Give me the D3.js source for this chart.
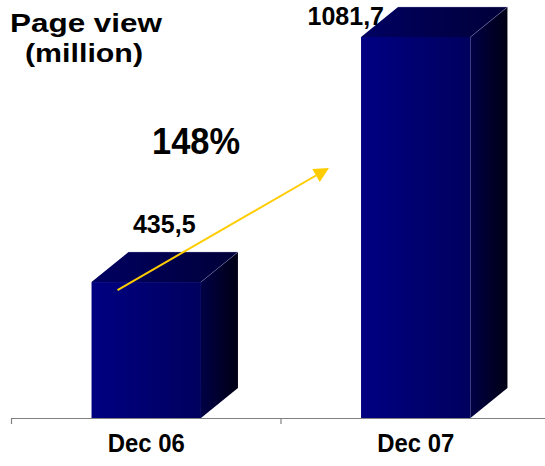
<!DOCTYPE html>
<html>
<head>
<meta charset="utf-8">
<script src="https://cdn.jsdelivr.net/npm/d3@7"></script>
<style>
  html, body { margin: 0; padding: 0; background: #ffffff; }
  svg { display: block; }
  text { font-family: "Liberation Sans", Arial, sans-serif; font-weight: bold; fill: #000; }
</style>
</head>
<body>
<svg id="chart" width="545" height="466"></svg>
<script>
// Page views per period (million)
const categories = ["Dec 06", "Dec 07"];
const pageViews = [435.5, 1081.7];
const valueLabels = ["435,5", "1081,7"];
const growthLabel = "148%";
const titleLines = ["Page view", "(million)"];

const width = 545, height = 466;
const svg = d3.select("#chart");

// Layout of the plot floor
const floorY = 418;
const axisLeft = 11.5, axisRight = 550.5;
const depthX = 37, depthY = -30;   // oblique 3D depth offset

const x = d3.scaleBand()
  .domain(categories)
  .range([axisLeft, axisRight])
  .paddingInner(0)
  .paddingOuter(0);

// Value axis of the 3D plot starts above zero
const y = d3.scaleLinear()
  .domain([77, 1081.7])
  .range([floorY, 37]);

const barW = x.bandwidth() * 0.406;

// Gradients for the three visible faces
const defs = svg.append("defs");
function grad(id, c0, c1) {
  const g = defs.append("linearGradient").attr("id", id)
    .attr("x1", "0%").attr("y1", "0%").attr("x2", "100%").attr("y2", "0%");
  g.append("stop").attr("offset", "0%").attr("stop-color", c0);
  g.append("stop").attr("offset", "100%").attr("stop-color", c1);
}
grad("gFront", "#000082", "#00005e");
grad("gSide", "#000046", "#000014");
grad("gTop", "#000062", "#000038");

// Bars
const bars = svg.append("g").selectAll("g.bar")
  .data(categories.map((c, i) => ({ cat: c, value: pageViews[i] })))
  .join("g").attr("class", "bar");

bars.each(function(d) {
  const g = d3.select(this);
  const x0 = x(d.cat) + (x.bandwidth() - barW) / 2;
  const x1 = x0 + barW;
  const top = y(d.value);
  const bottom = floorY;
  const line = d3.line();

  // side face
  g.append("path")
    .attr("d", line([[x1, top], [x1 + depthX, top + depthY], [x1 + depthX, bottom + depthY], [x1, bottom]]) + "Z")
    .attr("fill", "url(#gSide)");
  // top face
  g.append("path")
    .attr("d", line([[x0, top], [x0 + depthX, top + depthY], [x1 + depthX, top + depthY], [x1, top]]) + "Z")
    .attr("fill", "url(#gTop)");
  // front face
  g.append("rect")
    .attr("x", x0).attr("y", top)
    .attr("width", barW).attr("height", bottom - top)
    .attr("fill", "url(#gFront)");
  // faint highlight edges on the top
  g.append("path")
    .attr("d", line([[x0 + depthX, top + depthY], [x1 + depthX, top + depthY], [x1, top]]))
    .attr("fill", "none")
    .attr("stroke", "#9a9ac8")
    .attr("stroke-opacity", 0.5)
    .attr("stroke-width", 0.7);
});

// Category axis
const axisG = svg.append("g");
axisG.append("line")
  .attr("x1", axisLeft).attr("x2", width)
  .attr("y1", floorY + 0.5).attr("y2", floorY + 0.5)
  .attr("stroke", "#808080").attr("stroke-width", 1.2);
const tickPos = [axisLeft, x(categories[1])];
axisG.selectAll("line.tick")
  .data(tickPos)
  .join("line").attr("class", "tick")
  .attr("x1", d => d).attr("x2", d => d)
  .attr("y1", floorY).attr("y2", floorY + 6)
  .attr("stroke", "#808080").attr("stroke-width", 1.2);

axisG.selectAll("text.cat")
  .data(categories)
  .join("text").attr("class", "cat")
  .attr("x", d => x(d) + x.bandwidth() / 2)
  .attr("y", 452)
  .attr("text-anchor", "middle")
  .attr("font-size", 25)
  .attr("textLength", 77)
  .attr("lengthAdjust", "spacingAndGlyphs")
  .text(d => d);

// Value labels
const labelOffsets = [[18, -49], [-70, -12]];
svg.selectAll("text.val")
  .data(pageViews)
  .join("text").attr("class", "val")
  .attr("x", (d, i) => x(categories[i]) + x.bandwidth() / 2 + labelOffsets[i][0])
  .attr("y", (d, i) => y(d) + labelOffsets[i][1])
  .attr("text-anchor", "middle")
  .attr("font-size", 25)
  .text((d, i) => valueLabels[i]);

// Title
svg.append("text")
  .attr("x", 10).attr("y", 32)
  .attr("font-size", 25)
  .attr("textLength", 152)
  .attr("lengthAdjust", "spacingAndGlyphs")
  .text(titleLines[0]);
svg.append("text")
  .attr("x", 25).attr("y", 62)
  .attr("font-size", 25)
  .attr("textLength", 118)
  .attr("lengthAdjust", "spacingAndGlyphs")
  .text(titleLines[1]);

// Growth arrow
const xa = x(categories[0]) + (x.bandwidth() - barW) / 2;
const start = [xa + 26, y(pageViews[0]) + 8];
const tip = [329, 168];
const ang = Math.atan2(tip[1] - start[1], tip[0] - start[0]);
const headLen = 15, headHalf = 7.5;
const base = [tip[0] - headLen * Math.cos(ang), tip[1] - headLen * Math.sin(ang)];
const nx = -Math.sin(ang), ny = Math.cos(ang);
svg.append("line")
  .attr("x1", start[0]).attr("y1", start[1])
  .attr("x2", base[0]).attr("y2", base[1])
  .attr("stroke", "#ffcc00").attr("stroke-width", 2);
svg.append("path")
  .attr("d", d3.line()([tip, [base[0] + nx * headHalf, base[1] + ny * headHalf], [base[0] - nx * headHalf, base[1] - ny * headHalf]]) + "Z")
  .attr("fill", "#ffcc00");

svg.append("text")
  .attr("x", 152).attr("y", 154)
  .attr("font-size", 36)
  .attr("textLength", 88)
  .attr("lengthAdjust", "spacingAndGlyphs")
  .text(growthLabel);
</script>
</body>
</html>
